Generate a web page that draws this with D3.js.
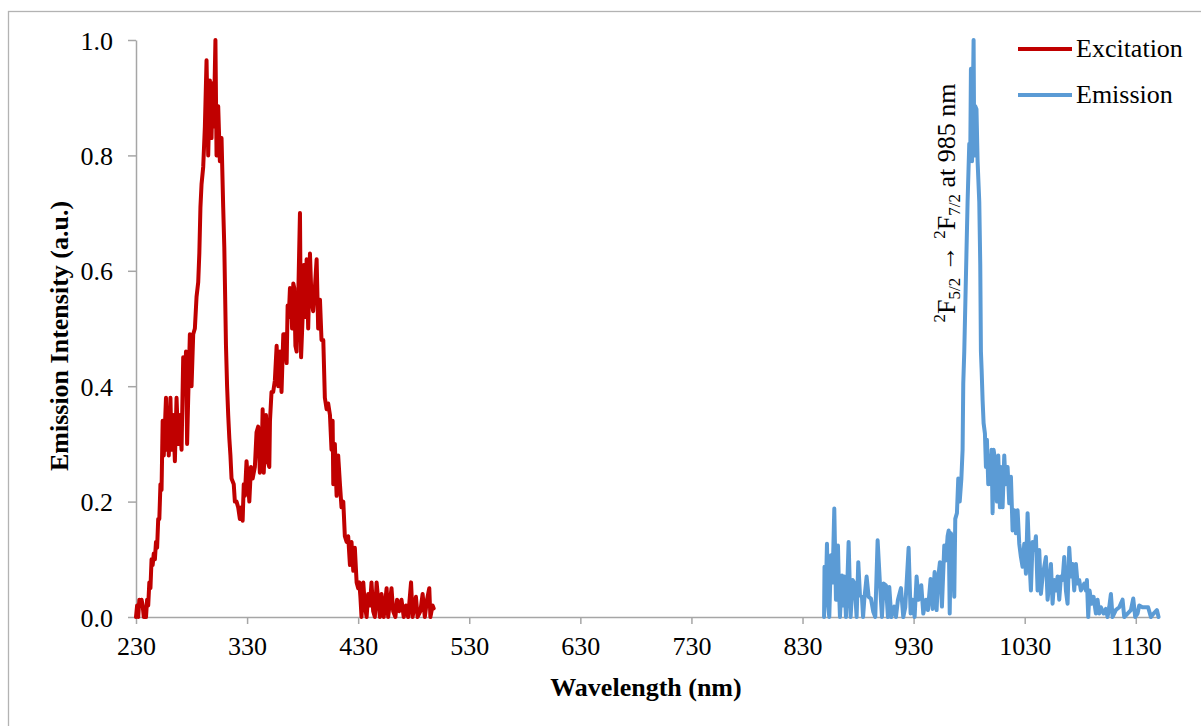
<!DOCTYPE html>
<html>
<head>
<meta charset="utf-8">
<script src="https://cdn.jsdelivr.net/npm/d3@7"></script>
<style>
    body { margin: 0; background: #fff; }
    svg text { font-family: "Liberation Serif", "Times New Roman", serif; fill: #000; }
    .axis path, .axis line { stroke: #a6a6a6; stroke-width: 1.5; }
</style>
</head>
<body>
<div id="chart"></div>
<script>
// Excitation spectrum (nm, normalised intensity)
var exWavelength = [230, 231, 232, 233, 234, 235, 236, 237, 239, 240, 241, 242, 243, 244, 245, 246, 247, 248, 249, 250,
    251, 252, 253, 254, 255, 256, 257, 258, 258.5, 259.5, 261, 262, 263.5, 265, 266.5, 268, 269.5, 271, 272.5, 274,
    275, 276, 277, 278.5, 280, 281.5, 283, 284.5, 286, 287, 288, 289, 290.5, 292, 293.5, 295, 296.5, 298, 299, 300,
    301.5, 302.5, 304, 305.5, 307, 308.5, 309.5, 310.3, 311, 312, 313, 314, 315, 316, 318, 319, 320.5, 322, 323.5, 325,
    326, 327, 328, 329.5, 331, 332, 333.5, 335, 337, 338.5, 340, 341.5, 343, 344, 345, 347, 348.5, 350, 350.6, 352,
    353.5, 355, 356.6, 358, 359.6, 361, 362.6, 364, 365.6, 366.5, 367.5, 368.6, 369.5, 370.5, 371.6, 372.5, 373.5, 374.6, 376, 377.6,
    378.6, 380, 381, 382.5, 383.6, 385, 386.6, 388, 389.5, 391, 392.6, 394, 395.6, 397, 398.6, 400, 401.6, 403, 404.6, 406,
    407, 407.6, 409, 410.6, 412, 413.6, 415, 416.6, 418, 419.6, 421, 422.6, 424, 425.6, 427, 428.6, 430, 431, 432, 433,
    434.6, 436, 437.6, 439, 440.6, 442, 443.5, 445, 446.6, 448, 449.5, 451, 453, 455.6, 457, 460, 461.5, 463.5, 465, 467,
    469, 471, 473, 475, 477.6, 479, 482, 483.5, 486, 488, 490, 492, 494, 495, 497, 498];
var exIntensity = [0.00, 0.02, 0.00, 0.03, 0.02, 0.03, 0.02, 0.00, 0.00, 0.03, 0.02, 0.06, 0.05, 0.10, 0.09, 0.11, 0.10, 0.13, 0.12, 0.17,
    0.17, 0.23, 0.22, 0.34, 0.28, 0.33, 0.38, 0.29, 0.36, 0.28, 0.38, 0.29, 0.35, 0.27, 0.38, 0.30, 0.35, 0.29, 0.45, 0.39,
    0.46, 0.30, 0.38, 0.49, 0.40, 0.49, 0.50, 0.555, 0.58, 0.63, 0.71, 0.75, 0.78, 0.85, 0.965, 0.80, 0.93, 0.83, 0.925, 0.85,
    1.00, 0.80, 0.885, 0.79, 0.83, 0.71, 0.64, 0.55, 0.47, 0.40, 0.35, 0.31, 0.28, 0.24, 0.23, 0.20, 0.20, 0.19, 0.17, 0.19,
    0.167, 0.23, 0.21, 0.27, 0.23, 0.20, 0.26, 0.24, 0.26, 0.32, 0.33, 0.25, 0.27, 0.36, 0.25, 0.35, 0.27, 0.26, 0.34, 0.39,
    0.39, 0.41, 0.47, 0.40, 0.46, 0.39, 0.49, 0.49, 0.44, 0.54, 0.52, 0.57, 0.56, 0.50, 0.578, 0.57, 0.47, 0.46, 0.55, 0.70,
    0.45, 0.52, 0.61, 0.52, 0.62, 0.50, 0.63, 0.55, 0.53, 0.57, 0.62, 0.50, 0.55, 0.48, 0.48, 0.38, 0.36, 0.37, 0.35, 0.29,
    0.34, 0.23, 0.30, 0.21, 0.28, 0.23, 0.19, 0.20, 0.14, 0.13, 0.14, 0.09, 0.13, 0.08, 0.12, 0.06, 0.05, 0.06, 0.035, 0.00,
    0.06, 0.02, 0.00, 0.04, 0.02, 0.06, 0.01, 0.00, 0.06, 0.03, 0.00, 0.04, 0.00, 0.05, 0.00, 0.05, 0.01, 0.00, 0.03, 0.01,
    0.03, 0.00, 0.02, 0.00, 0.06, 0.00, 0.035, 0.00, 0.01, 0.04, 0.00, 0.03, 0.05, 0.00, 0.02, 0.015];

// Emission spectrum (nm, normalised intensity)
var emWavelength = [849.4, 849.8, 851, 852, 853, 854.1, 855.6, 857, 858.6, 860.1, 861.9, 862.8, 863.7, 865.5, 866.5, 867.6, 869.1, 870.2, 871.5, 873.3,
    875.1, 876.9, 878.7, 880.2, 881.7, 883.5, 884.5, 885.6, 887.7, 889.5, 891.6, 893.7, 895.5, 897.6, 899.7, 901.5, 903, 905.1, 906.9, 908.1,
    909.9, 911, 912.6, 914.1, 915.9, 918.6, 920.7, 922.5, 925.5, 927.3, 929.1, 930.9, 932.7, 934.5, 936.9, 938.7, 941.1, 942.9, 945.3, 947.1,
    948.9, 950.7, 951.9, 953.7, 955.5, 957.6, 959.1, 960.6, 961.6, 962.5, 963.6, 965.1, 966.6, 967.5, 969, 970.2, 971.5, 973, 974.1, 974.7,
    975.6, 977.1, 978.6, 980.1, 981, 981.6, 982.6, 984, 984.6, 985.5, 986.6, 987.6, 989.1, 990, 990.6, 991.2, 992.1, 993, 994.2, 995.1,
    996, 997.2, 998.1, 999.2, 1000.2, 1001.1, 1002, 1003.5, 1005, 1006.2, 1007.7, 1008.6, 1010.1, 1011.6, 1012.8, 1014.6, 1016.1, 1017.6, 1019.1, 1020.6,
    1022.1, 1023.6, 1025.1, 1026.6, 1028.1, 1029.6, 1031.1, 1032.6, 1034.1, 1035.6, 1037.1, 1038.6, 1040.1, 1041.6, 1043.1, 1044.6, 1046.1, 1049.1, 1050.6, 1052.1,
    1053.6, 1055.1, 1056.6, 1058.1, 1059.6, 1061.1, 1062.6, 1064.1, 1065.6, 1067.1, 1068.6, 1070.1, 1071.6, 1073.1, 1074.6, 1076.1, 1077.6, 1079.1, 1080.6, 1082.1,
    1083.6, 1085.1, 1086, 1087.2, 1088.4, 1090.2, 1092, 1094.1, 1095.6, 1097.1, 1098.6, 1101, 1103.1, 1104.6, 1106.1, 1107.6, 1109.1, 1112, 1115.1, 1118.1,
    1119.6, 1122.6, 1125.6, 1127.7, 1129.5, 1131.6, 1133.1, 1136, 1139, 1141.1, 1143.6, 1146, 1149, 1150.5];
var emIntensity = [0.00, 0.087, 0.04, 0.127, 0.02, 0.00, 0.107, 0.06, 0.188, 0.03, 0.124, 0.05, 0.00, 0.072, 0.02, 0.07, 0.00, 0.05, 0.13, 0.00,
    0.064, 0.058, 0.00, 0.095, 0.038, 0.035, 0.00, 0.03, 0.07, 0.035, 0.032, 0.009, 0.00, 0.133, 0.058, 0.00, 0.058, 0.055, 0.00, 0.052,
    0.00, 0.01, 0.018, 0.00, 0.03, 0.05, 0.00, 0.017, 0.12, 0.006, 0.03, 0.00, 0.07, 0.03, 0.055, 0.006, 0.03, 0.012, 0.066, 0.014,
    0.078, 0.012, 0.064, 0.095, 0.018, 0.124, 0.098, 0.14, 0.15, 0.006, 0.145, 0.12, 0.035, 0.17, 0.18, 0.24, 0.20, 0.24, 0.29, 0.405,
    0.46, 0.59, 0.72, 0.82, 0.80, 0.95, 0.79, 1.00, 0.80, 0.885, 0.88, 0.79, 0.72, 0.61, 0.46, 0.43, 0.376, 0.336, 0.318, 0.26,
    0.307, 0.23, 0.28, 0.23, 0.29, 0.18, 0.29, 0.27, 0.20, 0.28, 0.19, 0.26, 0.19, 0.28, 0.23, 0.26, 0.197, 0.243, 0.15, 0.185,
    0.145, 0.185, 0.127, 0.104, 0.087, 0.127, 0.075, 0.18, 0.104, 0.046, 0.13, 0.116, 0.14, 0.046, 0.116, 0.04, 0.07, 0.104, 0.03, 0.058,
    0.092, 0.023, 0.064, 0.046, 0.07, 0.03, 0.07, 0.064, 0.104, 0.046, 0.023, 0.12, 0.07, 0.092, 0.046, 0.092, 0.058, 0.064, 0.046, 0.052,
    0.058, 0.046, 0.064, 0.00, 0.046, 0.023, 0.035, 0.006, 0.03, 0.006, 0.017, 0.006, 0.014, 0.00, 0.017, 0.04, 0.00, 0.012, 0.017, 0.03,
    0.00, 0.006, 0.012, 0.032, 0.00, 0.006, 0.02, 0.017, 0.017, 0.017, 0.00, 0.006, 0.012, 0.00];

var xTicks = [230, 330, 430, 530, 630, 730, 830, 930, 1030, 1130];
var yTicks = [0, 0.2, 0.4, 0.6, 0.8, 1.0];

var seriesNames = ["Excitation", "Emission"];
var seriesColors = ["#c00000", "#5b9bd5"];

var width = 1201, height = 726;
var margin = {top: 40, right: 43, bottom: 109, left: 136};

var svg = d3.select("#chart").append("svg")
    .attr("width", width)
    .attr("height", height);

// outer chart frame (right and bottom edges fall outside the picture)
svg.append("rect")
    .attr("x", 8.5)
    .attr("y", 11.5)
    .attr("width", 1300)
    .attr("height", 900)
    .attr("fill", "none")
    .attr("stroke", "#b3b3b3")
    .attr("stroke-width", 1.3);

var x = d3.scaleLinear().domain([230, 1150]).range([margin.left, width - margin.right]);
var y = d3.scaleLinear().domain([0, 1]).range([height - margin.bottom, margin.top]);

// Axes
var xAxis = svg.append("g")
    .attr("class", "axis")
    .attr("transform", "translate(0," + y(0) + ")")
    .call(d3.axisBottom(x).tickValues(xTicks).tickSize(7).tickSizeOuter(0).tickFormat(d3.format("d")));
xAxis.selectAll("text")
    .attr("y", 38)
    .attr("dy", 0)
    .style("font-size", "26px")
    .style("font-family", "'Liberation Serif', serif");

var yAxis = svg.append("g")
    .attr("class", "axis")
    .attr("transform", "translate(" + x(230) + ",0)")
    .call(d3.axisLeft(y).tickValues(yTicks).tickSize(8).tickPadding(15).tickSizeOuter(0).tickFormat(d3.format(".1f")));
yAxis.selectAll("text")
    .attr("dy", "0.35em")
    .style("font-size", "26px")
    .style("font-family", "'Liberation Serif', serif");

// Lines
var line = d3.line()
    .x(function (d) { return x(d[0]); })
    .y(function (d) { return y(d[1]); });

var series = [
    d3.zip(exWavelength, exIntensity),
    d3.zip(emWavelength, emIntensity)
];

svg.selectAll(".spectrum")
    .data(series)
    .enter()
    .append("path")
    .attr("class", "spectrum")
    .attr("d", line)
    .attr("fill", "none")
    .attr("stroke", function (d, i) { return seriesColors[i]; })
    .attr("stroke-width", 4)
    .attr("stroke-linejoin", "round")
    .attr("stroke-linecap", "round");

// Axis titles
svg.append("text")
    .attr("x", 646)
    .attr("y", 696)
    .attr("text-anchor", "middle")
    .style("font-size", "26px")
    .style("font-weight", "bold")
    .text("Wavelength (nm)");

svg.append("text")
    .attr("transform", "translate(68,336) rotate(-90)")
    .attr("text-anchor", "middle")
    .style("font-size", "26px")
    .style("font-weight", "bold")
    .text("Emission Intensity (a.u.)");

// Legend
var legend = svg.selectAll(".legend")
    .data(seriesNames)
    .enter()
    .append("g")
    .attr("class", "legend")
    .attr("transform", function (d, i) { return "translate(1018," + (49 + i * 46) + ")"; });

legend.append("line")
    .attr("x1", 0)
    .attr("x2", 54)
    .attr("stroke", function (d, i) { return seriesColors[i]; })
    .attr("stroke-width", 4);

legend.append("text")
    .attr("x", 58)
    .attr("y", 8)
    .style("font-size", "26px")
    .text(function (d) { return d; });

// Peak annotation
var note = svg.append("text")
    .attr("transform", "translate(955,203) rotate(-90)")
    .attr("text-anchor", "middle")
    .style("font-size", "26px");
note.append("tspan").attr("dy", -10).style("font-size", "17px").text("2");
note.append("tspan").attr("dy", 10).text("F");
note.append("tspan").attr("dy", 5).style("font-size", "17px").text("5/2");
note.append("tspan").attr("dy", -5).text(" \u2192 ");
note.append("tspan").attr("dy", -10).style("font-size", "17px").text("2");
note.append("tspan").attr("dy", 10).text("F");
note.append("tspan").attr("dy", 5).style("font-size", "17px").text("7/2");
note.append("tspan").attr("dy", -5).text(" at 985 nm");
</script>
</body>
</html>
